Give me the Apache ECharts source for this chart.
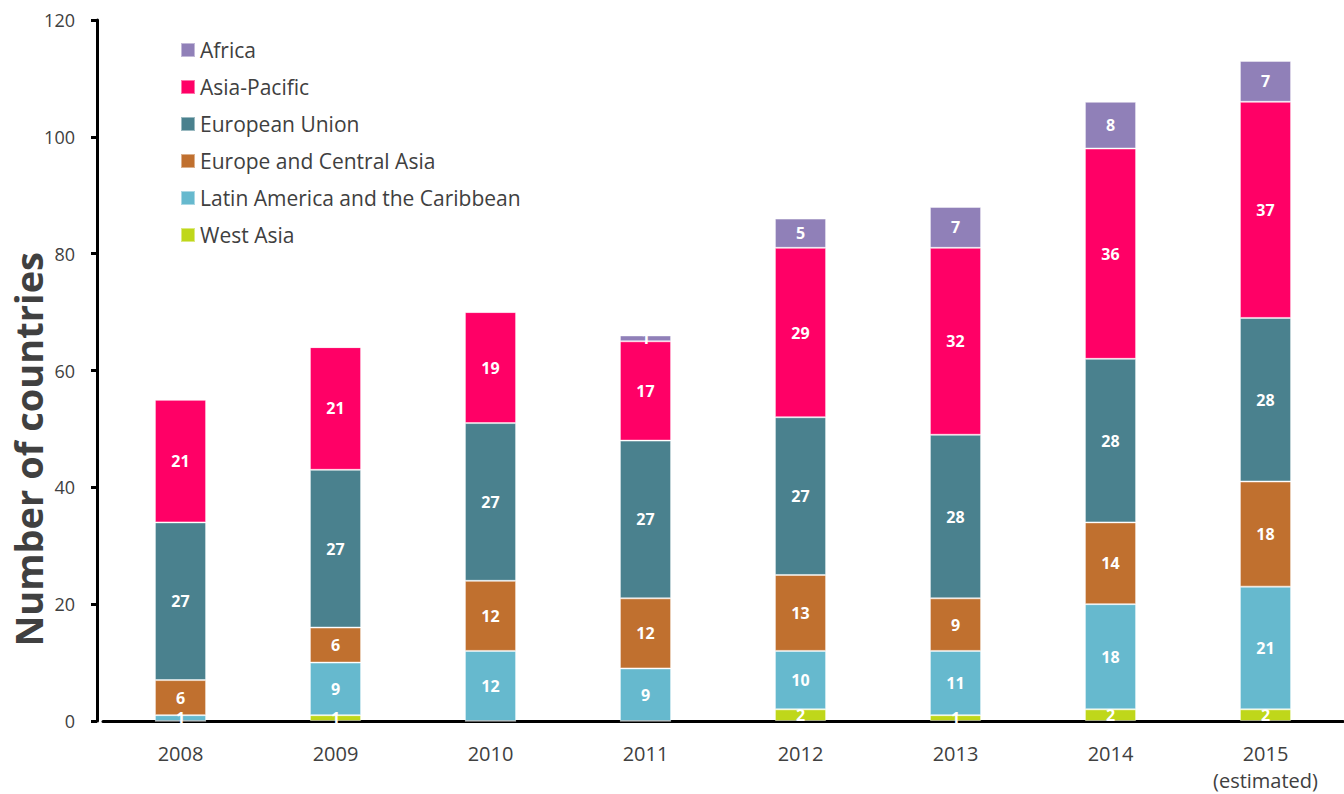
<!DOCTYPE html>
<html>
<head>
<meta charset="utf-8">
<script src="https://cdn.jsdelivr.net/npm/echarts@6/dist/echarts.min.js"></script>
<style>
  html, body { margin: 0; padding: 0; background: #fff; }
  #chart { width: 1344px; height: 794px; }
</style>
</head>
<body>
<div id="chart"></div>
<script>
var years = ['2008', '2009', '2010', '2011', '2012', '2013', '2014', '2015\n(estimated)'];
var westAsia = [0, 1, 0, 0, 2, 1, 2, 2];
var latinAmerica = [1, 9, 12, 9, 10, 11, 18, 21];
var europeCentralAsia = [6, 6, 12, 12, 13, 9, 14, 18];
var europeanUnion = [27, 27, 27, 27, 27, 28, 28, 28];
var asiaPacific = [21, 21, 19, 17, 29, 32, 36, 37];
var africa = [0, 0, 0, 1, 5, 7, 8, 7];
var yTicks = [0, 20, 40, 60, 80, 100, 120];

(function() {
  var font = 'Open Sans';
  var chart = echarts.init(document.getElementById('chart'), null, { renderer: 'svg' });

  function seriesOf(name, data, color) {
    return {
      name: name, type: 'bar', stack: 'all', data: data, barWidth: '33%',
      itemStyle: { color: color, borderColor: 'rgba(255,255,255,0.45)', borderWidth: 1 },
      label: {
        show: true, position: 'inside', color: '#fff', fontFamily: font,
        fontWeight: 'bold', fontSize: 16,
        formatter: function(p) { return p.value > 0 ? p.value : ''; }
      }
    };
  }

  chart.setOption({
    animation: false,
    legend: {
      orient: 'vertical', left: 175, top: 33, itemWidth: 14, itemHeight: 14, itemGap: 13,
      icon: 'rect',
      textStyle: { color: '#404040', fontSize: 21, fontFamily: font, lineHeight: 24 },
      data: ['Africa', 'Asia-Pacific', 'European Union', 'Europe and Central Asia',
             'Latin America and the Caribbean', 'West Asia']
    },
    grid: { left: 103, right: 1, top: 20, bottom: 73, containLabel: false },
    xAxis: {
      type: 'category', data: years,
      axisLine: { lineStyle: { color: '#000', width: 3 } },
      axisTick: { show: false },
      axisLabel: { color: '#404040', fontSize: 20, fontFamily: font, margin: 19, lineHeight: 27 }
    },
    yAxis: {
      type: 'value', min: 0, max: 120, interval: 20, offset: 6,
      axisLine: { show: true, lineStyle: { color: '#000', width: 3 } },
      axisTick: { show: true, length: 6, lineStyle: { color: '#000', width: 3 } },
      splitLine: { show: false },
      axisLabel: {
        color: '#404040', fontSize: 18, fontFamily: font, margin: 22,
        formatter: function(v) { return yTicks.indexOf(v) >= 0 ? v : ''; }
      }
    },
    graphic: [{
      type: 'text', left: 9, top: 252, rotation: Math.PI / 2,
      style: {
        text: 'Number of countries', fill: '#404040', fontSize: 38,
        fontWeight: 'bold', fontFamily: font
      }
    }],
    series: [
      seriesOf('West Asia', westAsia, '#BFD71A'),
      seriesOf('Latin America and the Caribbean', latinAmerica, '#66B9CE'),
      seriesOf('Europe and Central Asia', europeCentralAsia, '#C0702F'),
      seriesOf('European Union', europeanUnion, '#4A818E'),
      seriesOf('Asia-Pacific', asiaPacific, '#FF0066'),
      seriesOf('Africa', africa, '#9080B8')
    ]
  });
})();
</script>
</body>
</html>
